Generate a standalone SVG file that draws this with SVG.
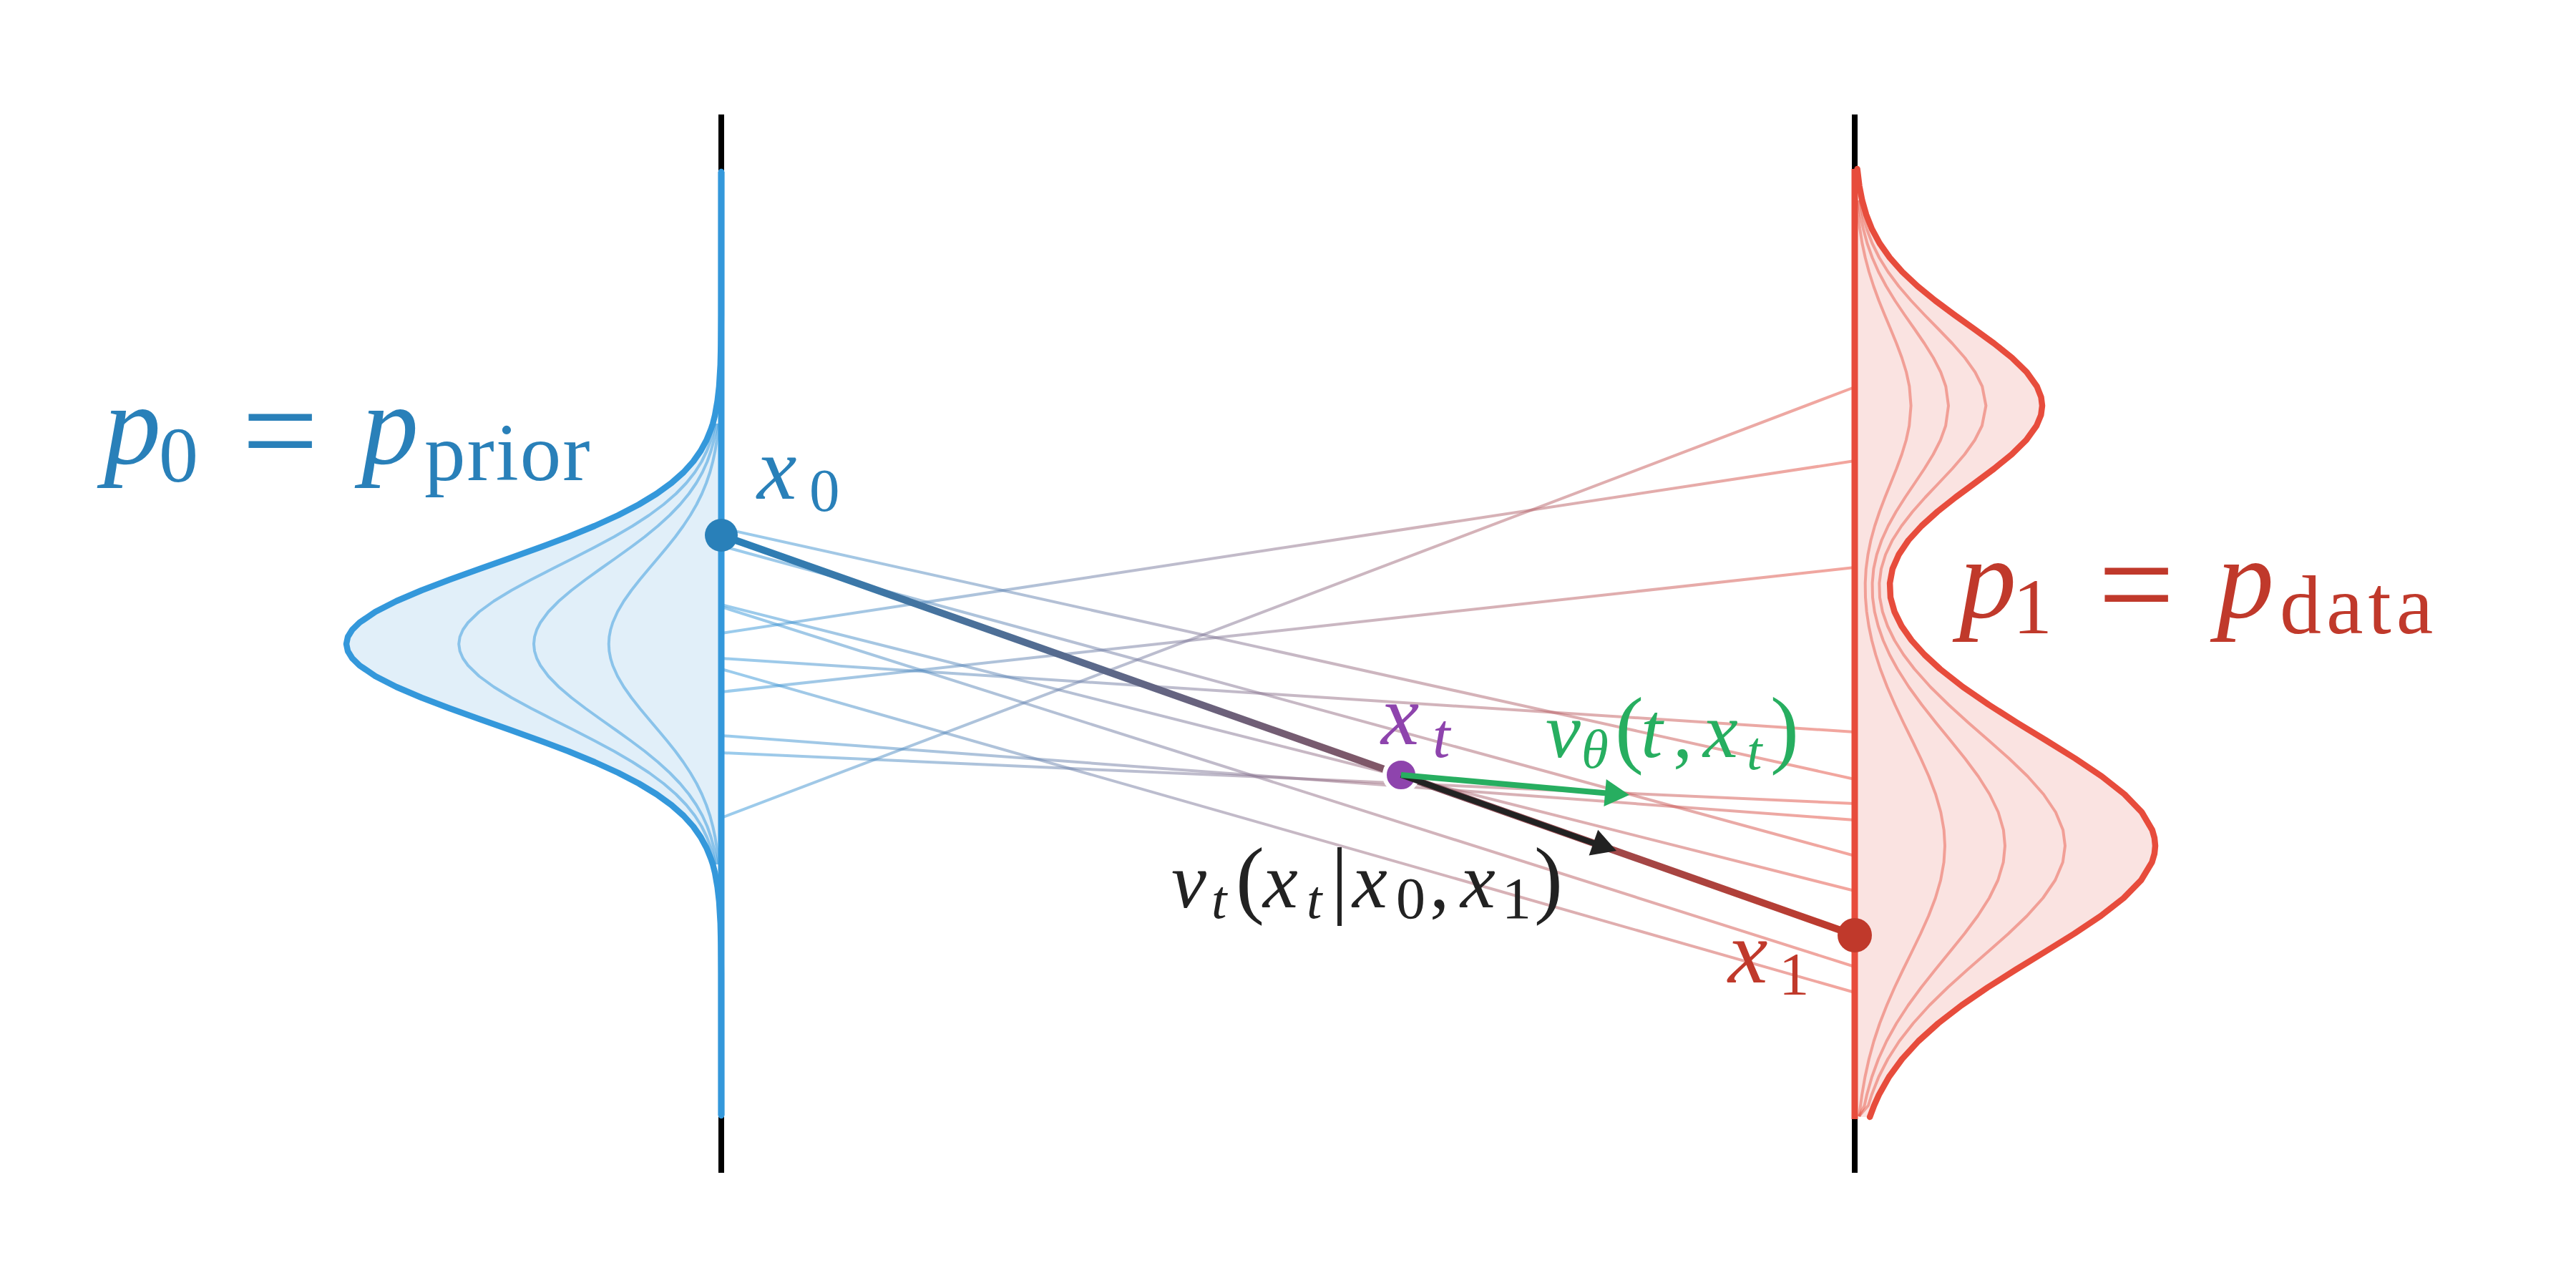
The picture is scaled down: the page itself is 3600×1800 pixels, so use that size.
<svg xmlns="http://www.w3.org/2000/svg" width="3600" height="1800" viewBox="0 0 3600 1800">
<style>
text{font-family:"Liberation Serif","Times New Roman",serif}
.it{font-style:italic}
.axis-k{stroke:#000;stroke-width:8}
.curve{fill:none;stroke-linejoin:round;stroke-linecap:round}
.inner-b{fill:none;stroke:#3498db;stroke-opacity:0.5;stroke-width:4;stroke-linejoin:round}
.inner-r{fill:none;stroke:#e74c3c;stroke-opacity:0.45;stroke-width:4;stroke-linejoin:round}
.pair{stroke:url(#pairGrad);stroke-opacity:0.5;stroke-width:4;fill:none}
</style>
<defs>
<linearGradient id="pairGrad" gradientUnits="userSpaceOnUse" x1="1008" y1="0" x2="2592" y2="0">
<stop offset="0" stop-color="#3498db"/>
<stop offset="1" stop-color="#e74c3c"/>
</linearGradient>
<linearGradient id="pathGrad" gradientUnits="userSpaceOnUse" x1="1008" y1="748" x2="2592" y2="1307">
<stop offset="0" stop-color="#2980b9"/>
<stop offset="1" stop-color="#c0392b"/>
</linearGradient>
</defs>
<rect width="3600" height="1800" fill="#fff"/>

<g id="axis-left">
<line class="axis-k" x1="1008" y1="160" x2="1008" y2="1639"/>
</g>
<g id="axis-right">
<line class="axis-k" x1="2592" y1="160" x2="2592" y2="1639"/>
</g>

<g id="prior-density">
<path fill="#e1eff9" d="M1008,592 L996.2,592 L993.5,600 L987.4,615 L979.3,630 L968.8,645 L955.3,660 L938.3,675 L917.6,690 L892.9,705 L864,720 L831,735 L794.5,750 L754.5,765 L712.8,780 L670.3,795 L628.6,810 L589.2,825 L554,840 L524.6,855 L502.5,870 L492.3,880 L486.1,890 L484,900 L486.1,910 L492.3,920 L502.5,930 L524.6,945 L554,960 L589.2,975 L628.6,990 L670.3,1005 L712.8,1020 L754.5,1035 L794.5,1050 L831,1065 L864,1080 L892.9,1095 L917.6,1110 L938.3,1125 L955.3,1140 L968.8,1155 L979.3,1170 L987.4,1185 L993.5,1200 L996.2,1208 L1008,1208 Z"/>
<path class="inner-b" d="M999.7,592 L997.8,600 L993.6,615 L987.9,630 L980.6,645 L971.1,660 L959.2,675 L944.7,690 L927.4,705 L907.2,720 L884.1,735 L858.5,750 L830.5,765 L801.4,780 L771.6,795 L742.4,810 L714.8,825 L690.2,840 L669.6,855 L654.1,870 L647,880 L642.7,890 L641.2,900 L642.7,910 L647,920 L654.1,930 L669.6,945 L690.2,960 L714.8,975 L742.4,990 L771.6,1005 L801.4,1020 L830.5,1035 L858.5,1050 L884.1,1065 L907.2,1080 L927.4,1095 L944.7,1110 L959.2,1125 L971.1,1140 L980.6,1155 L987.9,1170 L993.6,1185 L997.8,1200 L999.7,1208"/>
<path class="inner-b" d="M1002.1,592 L1000.75,600 L997.7,615 L993.65,630 L988.4,645 L981.65,660 L973.15,675 L962.8,690 L950.45,705 L936,720 L919.5,735 L901.25,750 L881.25,765 L860.4,780 L839.15,795 L818.3,810 L798.6,825 L781,840 L766.3,855 L755.25,870 L750.15,880 L747.05,890 L746,900 L747.05,910 L750.15,920 L755.25,930 L766.3,945 L781,960 L798.6,975 L818.3,990 L839.15,1005 L860.4,1020 L881.25,1035 L901.25,1050 L919.5,1065 L936,1080 L950.45,1095 L962.8,1110 L973.15,1125 L981.65,1140 L988.4,1155 L993.65,1170 L997.7,1185 L1000.75,1200 L1002.1,1208"/>
<path class="inner-b" d="M1004.5,592 L1003.65,600 L1001.8,615 L999.4,630 L996.2,645 L992.2,660 L987.1,675 L980.9,690 L973.5,705 L964.8,720 L954.9,735 L943.95,750 L931.95,765 L919.4,780 L906.7,795 L894.2,810 L882.4,825 L871.8,840 L863,855 L856.35,870 L853.3,880 L851.4,890 L850.8,900 L851.4,910 L853.3,920 L856.35,930 L863,945 L871.8,960 L882.4,975 L894.2,990 L906.7,1005 L919.4,1020 L931.95,1035 L943.95,1050 L954.9,1065 L964.8,1080 L973.5,1095 L980.9,1110 L987.1,1125 L992.2,1140 L996.2,1155 L999.4,1170 L1001.8,1185 L1003.65,1200 L1004.5,1208"/>
<path class="curve" stroke="#3498db" stroke-width="8.5" d="M1008,240 L1007.9,440 L1007.5,480 L1006.8,510 L1005,540 L1002.7,560 L999.2,580 L996.2,592 L993.5,600 L987.4,615 L979.3,630 L968.8,645 L955.3,660 L938.3,675 L917.6,690 L892.9,705 L864,720 L831,735 L794.5,750 L754.5,765 L712.8,780 L670.3,795 L628.6,810 L589.2,825 L554,840 L524.6,855 L502.5,870 L492.3,880 L486.1,890 L484,900 L486.1,910 L492.3,920 L502.5,930 L524.6,945 L554,960 L589.2,975 L628.6,990 L670.3,1005 L712.8,1020 L754.5,1035 L794.5,1050 L831,1065 L864,1080 L892.9,1095 L917.6,1110 L938.3,1125 L955.3,1140 L968.8,1155 L979.3,1170 L987.4,1185 L993.5,1200 L996.2,1208 L999.2,1220 L1002.7,1240 L1005,1260 L1006.8,1290 L1007.5,1320 L1007.9,1360 L1008,1559"/>
</g>

<g id="data-density">
<path fill="#fae3e1" d="M2592,236 L2595.6,236 L2598.5,260 L2602.4,280 L2608.1,300 L2616,320 L2626.8,340 L2640.9,360 L2658.6,380 L2679.9,400 L2704.4,420 L2731.3,440 L2759.3,460 L2786.8,480 L2811.8,500 L2832.3,520 L2846.6,540 L2852.5,555 L2854,567 L2852.3,580 L2846.1,595 L2831.7,615 L2811.4,635 L2786.8,655 L2760,675 L2732.9,695 L2707.6,715 L2685.4,735 L2667.1,755 L2653.6,775 L2644.8,795 L2641.1,815 L2642,835 L2647.6,855 L2657.5,875 L2671.5,895 L2689.6,915 L2711.3,935 L2743.2,960 L2779.6,985 L2818.9,1010 L2859.9,1035 L2900.1,1060 L2937.3,1085 L2969,1110 L2993.1,1135 L3007.8,1160 L3010.9,1171 L3012,1182 L3010.9,1193 L3007.4,1205 L2992.3,1230 L2967.9,1255 L2935.9,1280 L2898.5,1305 L2858.2,1330 L2817.3,1355 L2777.7,1380 L2741.2,1405 L2708.8,1430 L2681,1455 L2658.2,1480 L2639.9,1505 L2625.8,1530 L2619.1,1545 L2613.1,1561 L2592,1561 Z"/>
<path class="inner-r" d="M2599.3,280 L2603.3,300 L2608.8,320 L2616.4,340 L2626.2,360 L2638.6,380 L2653.5,400 L2670.7,420 L2689.5,440 L2709.1,460 L2728.4,480 L2745.9,500 L2760.2,520 L2770.2,540 L2775.4,567 L2769.9,595 L2759.8,615 L2745.6,635 L2728.4,655 L2709.6,675 L2690.6,695 L2672.9,715 L2657.4,735 L2644.6,755 L2635.1,775 L2629,795 L2626.4,815 L2627,835 L2630.9,855 L2637.9,875 L2647.7,895 L2660.3,915 L2675.5,935 L2697.8,960 L2723.3,985 L2750.8,1010 L2779.5,1035 L2807.7,1060 L2833.7,1085 L2855.9,1110 L2872.8,1135 L2883.1,1160 L2886,1182 L2882.8,1205 L2872.2,1230 L2855.1,1255 L2832.7,1280 L2806.6,1305 L2778.3,1330 L2749.7,1355 L2722,1380 L2696.4,1405 L2673.8,1430 L2654.3,1455 L2638.3,1480 L2625.5,1505 L2615.7,1530 L2611,1545 L2598,1560"/>
<path class="inner-r" d="M2597.2,280 L2600.1,300 L2604,320 L2609.4,340 L2616.5,360 L2625.3,380 L2636,400 L2648.2,420 L2661.7,440 L2675.7,460 L2689.4,480 L2701.9,500 L2712.2,520 L2719.3,540 L2723,567 L2719.1,595 L2711.9,615 L2701.7,635 L2689.4,655 L2676,675 L2662.5,695 L2649.8,715 L2638.7,735 L2629.6,755 L2622.8,775 L2618.4,795 L2616.6,815 L2617,835 L2619.8,855 L2624.8,875 L2631.8,895 L2640.8,915 L2651.7,935 L2667.6,960 L2685.8,985 L2705.5,1010 L2726,1035 L2746.1,1060 L2764.7,1085 L2780.5,1110 L2792.6,1135 L2799.9,1160 L2802,1182 L2799.7,1205 L2792.2,1230 L2780,1255 L2764,1280 L2745.3,1305 L2725.1,1330 L2704.7,1355 L2684.9,1380 L2666.6,1405 L2650.4,1430 L2636.5,1455 L2625.1,1480 L2616,1505 L2608.9,1530 L2605.6,1545 L2598,1560"/>
<path class="inner-r" d="M2595.1,280 L2596.8,300 L2599.2,320 L2602.4,340 L2606.7,360 L2612,380 L2618.4,400 L2625.7,420 L2633.8,440 L2642.2,460 L2650.4,480 L2657.9,500 L2664.1,520 L2668.4,540 L2670.6,567 L2668.2,595 L2663.9,615 L2657.8,635 L2650.4,655 L2642.4,675 L2634.3,695 L2626.7,715 L2620,735 L2614.5,755 L2610.5,775 L2607.8,795 L2606.7,815 L2607,835 L2608.7,855 L2611.7,875 L2615.9,895 L2621.3,915 L2627.8,935 L2637.4,960 L2648.3,985 L2660.1,1010 L2672.4,1035 L2684.4,1060 L2695.6,1085 L2705.1,1110 L2712.3,1135 L2716.7,1160 L2718,1182 L2716.6,1205 L2712.1,1230 L2704.8,1255 L2695.2,1280 L2684,1305 L2671.9,1330 L2659.6,1355 L2647.7,1380 L2636.8,1405 L2627,1430 L2618.7,1455 L2611.9,1480 L2606.4,1505 L2602.1,1530 L2600.1,1545 L2598,1560"/>
<path class="curve" stroke="#e74c3c" stroke-width="8.5" d="M2595.6,236 L2598.5,260 L2602.4,280 L2608.1,300 L2616,320 L2626.8,340 L2640.9,360 L2658.6,380 L2679.9,400 L2704.4,420 L2731.3,440 L2759.3,460 L2786.8,480 L2811.8,500 L2832.3,520 L2846.6,540 L2852.5,555 L2854,567 L2852.3,580 L2846.1,595 L2831.7,615 L2811.4,635 L2786.8,655 L2760,675 L2732.9,695 L2707.6,715 L2685.4,735 L2667.1,755 L2653.6,775 L2644.8,795 L2641.1,815 L2642,835 L2647.6,855 L2657.5,875 L2671.5,895 L2689.6,915 L2711.3,935 L2743.2,960 L2779.6,985 L2818.9,1010 L2859.9,1035 L2900.1,1060 L2937.3,1085 L2969,1110 L2993.1,1135 L3007.8,1160 L3010.9,1171 L3012,1182 L3010.9,1193 L3007.4,1205 L2992.3,1230 L2967.9,1255 L2935.9,1280 L2898.5,1305 L2858.2,1330 L2817.3,1355 L2777.7,1380 L2741.2,1405 L2708.8,1430 L2681,1455 L2658.2,1480 L2639.9,1505 L2625.8,1530 L2619.1,1545 L2613.1,1561"/>
</g>

<g id="connectors">
<line class="pair" x1="1008" y1="738" x2="2592" y2="1089"/>
<line class="pair" x1="1008" y1="763" x2="2592" y2="1196"/>
<line class="pair" x1="1008" y1="845" x2="2592" y2="1245"/>
<line class="pair" x1="1008" y1="848" x2="2592" y2="1351"/>
<line class="pair" x1="1008" y1="885" x2="2592" y2="644"/>
<line class="pair" x1="1008" y1="920" x2="2592" y2="1023"/>
<line class="pair" x1="1008" y1="935" x2="2592" y2="1387"/>
<line class="pair" x1="1008" y1="967" x2="2592" y2="793"/>
<line class="pair" x1="1008" y1="1028" x2="2592" y2="1146"/>
<line class="pair" x1="1008" y1="1052" x2="2592" y2="1123"/>
<line class="pair" x1="1008" y1="1143" x2="2592" y2="541"/>
<line stroke="url(#pathGrad)" stroke-width="10" x1="1008" y1="748" x2="2592" y2="1307"/>
</g>

<g id="axis-left-colored">
<line stroke="#3498db" stroke-width="9" x1="1008" y1="240" x2="1008" y2="1559"/>
</g>
<g id="axis-right-colored">
<line stroke="#e74c3c" stroke-width="9" x1="2592" y1="236" x2="2592" y2="1564"/>
</g>

<g id="node-xt">
<circle cx="1958" cy="1083" r="23" fill="#8e44ad" stroke="#fff" stroke-width="6"/>
</g>

<g id="arrows">
<line stroke="#222" stroke-width="8" x1="1958" y1="1083" x2="2232" y2="1180"/>
<polygon fill="#222" points="2259,1189 2220.6,1195.6 2233.2,1159.8"/>
<line stroke="#27ae60" stroke-width="8" x1="1958" y1="1083" x2="2262" y2="1110"/>
<polygon fill="#27ae60" points="2277,1111 2241.4,1126.9 2244.8,1089.1"/>
</g>

<g id="node-x0">
<circle cx="1008" cy="748" r="23" fill="#2980b9"/>
</g>
<g id="node-x1">
<circle cx="2592" cy="1307" r="24" fill="#c0392b"/>
</g>

<g id="label-p0">
<text fill="#2980b9"><tspan class="it" x="145" y="648" font-size="160">p</tspan><tspan x="222" y="673" font-size="110">0</tspan><tspan x="338" y="666" font-size="190">=</tspan><tspan class="it" x="505" y="648" font-size="160">p</tspan><tspan x="593" y="671" font-size="115" letter-spacing="2">prior</tspan></text>
</g>
<g id="label-p1">
<text fill="#c0392b"><tspan class="it" x="2738" y="863" font-size="160">p</tspan><tspan x="2813" y="885" font-size="110">1</tspan><tspan x="2932" y="881" font-size="190">=</tspan><tspan class="it" x="3098" y="863" font-size="160">p</tspan><tspan x="3186" y="885" font-size="116" letter-spacing="7">data</tspan></text>
</g>
<g id="label-x0">
<text fill="#2980b9"><tspan class="it" x="1058" y="697" font-size="125">x</tspan><tspan x="1131" y="714" font-size="85">0</tspan></text>
</g>
<g id="label-xt">
<text fill="#8e44ad"><tspan class="it" x="1930" y="1040" font-size="120">x</tspan><tspan class="it" x="2002" y="1058" font-size="88">t</tspan></text>
</g>
<g id="label-x1">
<text fill="#c0392b"><tspan class="it" x="2415" y="1373" font-size="125">x</tspan><tspan x="2486" y="1390" font-size="85">1</tspan></text>
</g>
<g id="label-vtheta">
<text fill="#27ae60"><tspan class="it" x="2160" y="1058" font-size="110">v</tspan><tspan class="it" x="2210" y="1073" font-size="77">θ</tspan><tspan x="2257" y="1058" font-size="120">(</tspan><tspan class="it" x="2293" y="1058" font-size="110">t</tspan><tspan x="2338" y="1058" font-size="110">,</tspan><tspan class="it" x="2380" y="1058" font-size="110">x</tspan><tspan class="it" x="2441" y="1075" font-size="77">t</tspan><tspan x="2474" y="1058" font-size="120">)</tspan></text>
</g>
<g id="label-vt">
<text fill="#222"><tspan class="it" x="1637" y="1268" font-size="110">v</tspan><tspan class="it" x="1693" y="1283" font-size="77">t</tspan><tspan x="1727" y="1268" font-size="120">(</tspan><tspan class="it" x="1765" y="1268" font-size="110">x</tspan><tspan class="it" x="1826" y="1283" font-size="77">t</tspan><tspan x="1860" y="1268" font-size="120">|</tspan><tspan class="it" x="1890" y="1268" font-size="110">x</tspan><tspan x="1951" y="1283" font-size="82">0</tspan><tspan x="1998" y="1268" font-size="110">,</tspan><tspan class="it" x="2041" y="1268" font-size="110">x</tspan><tspan x="2099" y="1283" font-size="82">1</tspan><tspan x="2144" y="1268" font-size="120">)</tspan></text>
</g>
</svg>
